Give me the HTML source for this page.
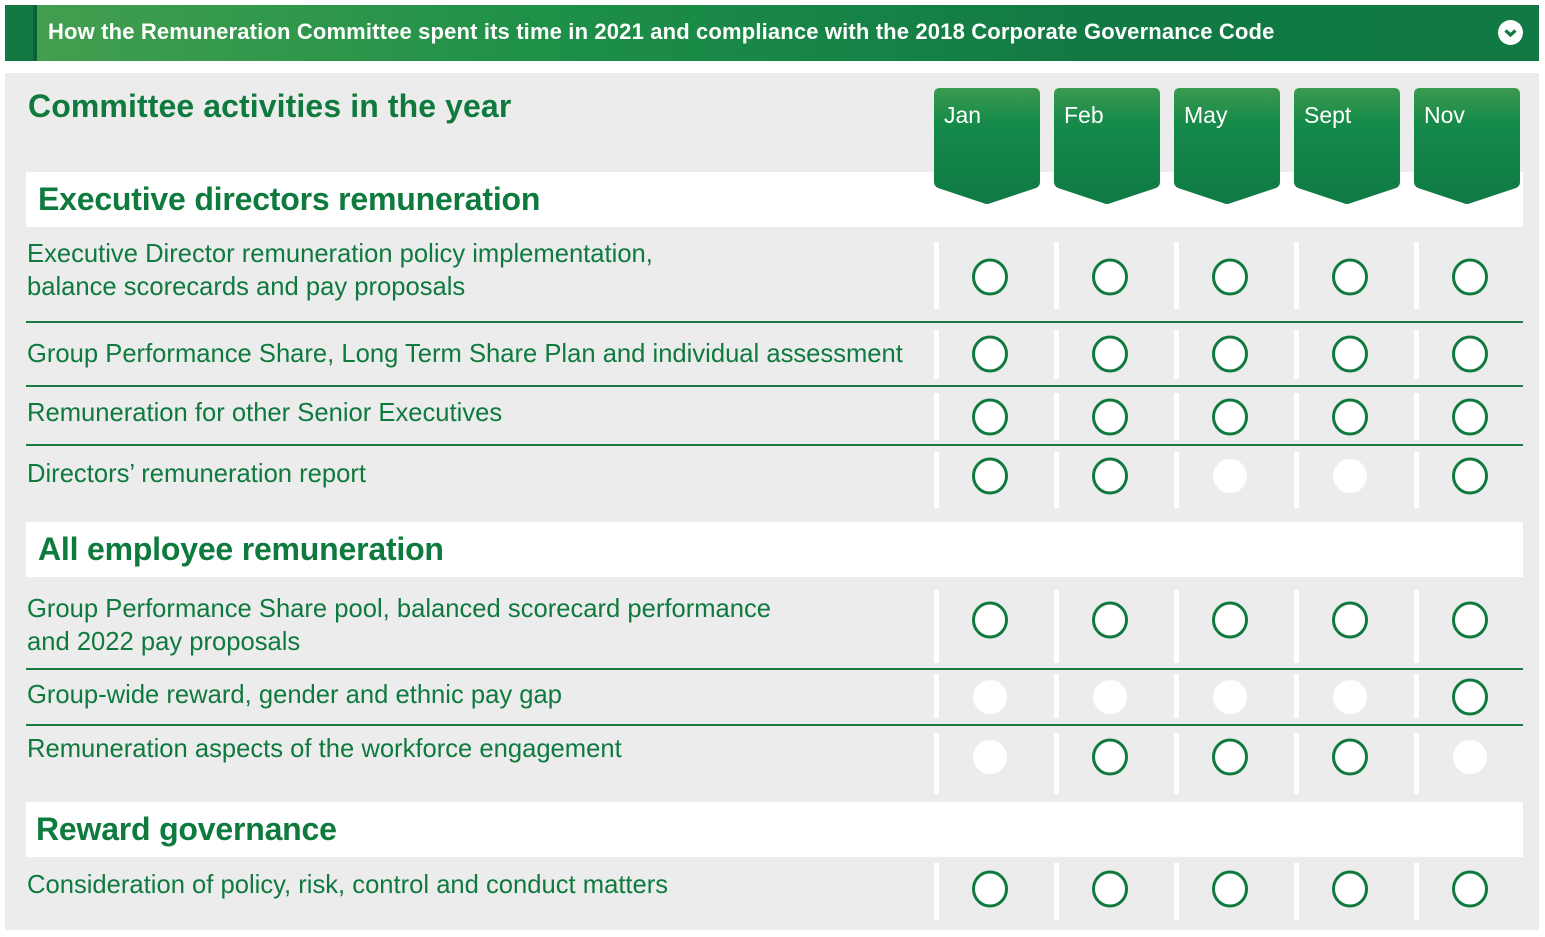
<!DOCTYPE html>
<html><head><meta charset="utf-8"><style>
body{margin:0;width:1545px;height:937px;background:#fff;position:relative;overflow:hidden;font-family:"Liberation Sans",sans-serif;}
.abs{position:absolute;}
#hdr{left:5px;top:5px;width:1534px;height:56px;background:linear-gradient(90deg,#45a04f 0%,#1e9048 35%,#117a44 70%,#107944 100%);}
#hdr .strip{position:absolute;left:0;top:0;width:28px;height:56px;background:#107944;border-right:4px solid #0b6234;}
#hdr .t{position:absolute;left:43px;top:14px;color:#fff;font-size:22px;font-weight:bold;letter-spacing:0.15px;}
#hdr .ic{position:absolute;left:1493px;top:15px;width:25px;height:25px;border-radius:50%;background:#fff;}
#panel{left:5px;top:73px;width:1534px;height:857px;background:#ececec;}
.band{position:absolute;left:26px;width:1497px;height:55px;background:#fff;}
.sec{position:absolute;color:#0f7a3e;font-size:32px;font-weight:bold;letter-spacing:-0.2px;}
.item{position:absolute;left:27px;color:#0f7a3e;font-size:25.6px;line-height:33px;letter-spacing:0px;}
.rule{position:absolute;left:26px;width:1497px;height:1.5px;background:#1a7a40;}
</style></head><body>
<div id="hdr" class="abs">
 <div class="strip"></div>
 <div class="t">How the Remuneration Committee spent its time in 2021 and compliance with the 2018 Corporate Governance Code</div>
 <div class="ic"><svg width="25" height="25"><path d="M7.5 10.5 L12.5 15 L17.5 10.5" stroke="#107944" stroke-width="3.2" fill="none"/></svg></div>
</div>
<div id="panel" class="abs"></div>
<div class="abs" style="left:28px;top:88px;color:#0f7a3e;font-size:32px;font-weight:bold;letter-spacing:0.1px">Committee activities in the year</div>
<div class="band" style="top:172px"></div>
<div class="band" style="top:522px"></div>
<div class="band" style="top:802px"></div>
<div class="sec" style="left:38px;top:181px">Executive directors remuneration</div>
<div class="sec" style="left:38px;top:531px">All employee remuneration</div>
<div class="sec" style="left:36px;top:811px">Reward governance</div>
<div class="item" style="top:238px">Executive Director remuneration policy implementation,<br>balance scorecards and pay proposals</div>
<div class="item" style="top:338px">Group Performance Share, Long Term Share Plan and individual assessment</div>
<div class="item" style="top:397px">Remuneration for other Senior Executives</div>
<div class="item" style="top:458px">Directors’ remuneration report</div>
<div class="item" style="top:593px">Group Performance Share pool, balanced scorecard performance<br>and 2022 pay proposals</div>
<div class="item" style="top:679px">Group-wide reward, gender and ethnic pay gap</div>
<div class="item" style="top:733px">Remuneration aspects of the workforce engagement</div>
<div class="item" style="top:869px">Consideration of policy, risk, control and conduct matters</div>
<div class="rule" style="top:321px"></div>
<div class="rule" style="top:385px"></div>
<div class="rule" style="top:444px"></div>
<div class="rule" style="top:668px"></div>
<div class="rule" style="top:724px"></div>
<svg id="grid" class="abs" style="left:0;top:0" width="1545" height="937">
<defs><linearGradient id="tg" x1="0" y1="0" x2="0" y2="1"><stop offset="0" stop-color="#3c9a50"/><stop offset="0.3" stop-color="#158a49"/><stop offset="1" stop-color="#0f7a44"/></linearGradient></defs>
</svg>
<script>
const months=["Jan","Feb","May","Sept","Nov"];
const rowNames=["exec-policy","gps-ltsp","senior-execs","directors-report","gps-pool","pay-gap","workforce","policy-risk"];
const activity=[
 [1,1,1,1,1],
 [1,1,1,1,1],
 [1,1,1,1,1],
 [1,1,0,0,1],
 [1,1,1,1,1],
 [0,0,0,0,1],
 [0,1,1,1,0],
 [1,1,1,1,1]
];
const rowTop=[242,330,393,452,590,674,733,863];
const rowBot=[309,379,440,508,663,718,794,920];
const rowCy=[277,354,417,476,620,697,757,889];
const colX=i=>990+i*120;
const svg=document.getElementById('grid');
const NS="http://www.w3.org/2000/svg";
months.forEach((m,i)=>{
 const cx=colX(i), l=cx-56, r=cx+50;
 const p=document.createElementNS(NS,'path');
 p.setAttribute('d',`M${l} ${94} Q${l} 88 ${l+6} 88 L${r-6} 88 Q${r} 88 ${r} 94 L${r} 182 Q${r} 186 ${r-4} 188 L${(l+r)/2+4} 203 Q${(l+r)/2} 205 ${(l+r)/2-4} 203 L${l+4} 188 Q${l} 186 ${l} 182 Z`);
 p.setAttribute('fill','url(#tg)');
 
 
 svg.appendChild(p);
 const t=document.createElementNS(NS,'text');
 t.setAttribute('x',l+10);t.setAttribute('y',123);t.setAttribute('fill','#fff');
 t.setAttribute('font-size','23');t.setAttribute('font-family','Liberation Sans, sans-serif');
 t.textContent=m;
 
 
 svg.appendChild(t);
});
activity.forEach((row,r)=>{
 row.forEach((v,i)=>{
  const s=document.createElementNS(NS,'rect');
  s.setAttribute('x',colX(i)-56);s.setAttribute('y',rowTop[r]);
  s.setAttribute('width',5);s.setAttribute('height',rowBot[r]-rowTop[r]);s.setAttribute('fill','#fff');
  
  
  svg.appendChild(s);
  const c=document.createElementNS(NS,'ellipse');
  c.setAttribute('cx',colX(i));c.setAttribute('cy',rowCy[r]);
  c.setAttribute('rx',v?16.5:17);c.setAttribute('ry',17);
  c.setAttribute('fill','#fff');
  if(v){c.setAttribute('stroke','#107a3e');c.setAttribute('stroke-width','3');}
  
  
  svg.appendChild(c);
 });
});
</script>
</body></html>
